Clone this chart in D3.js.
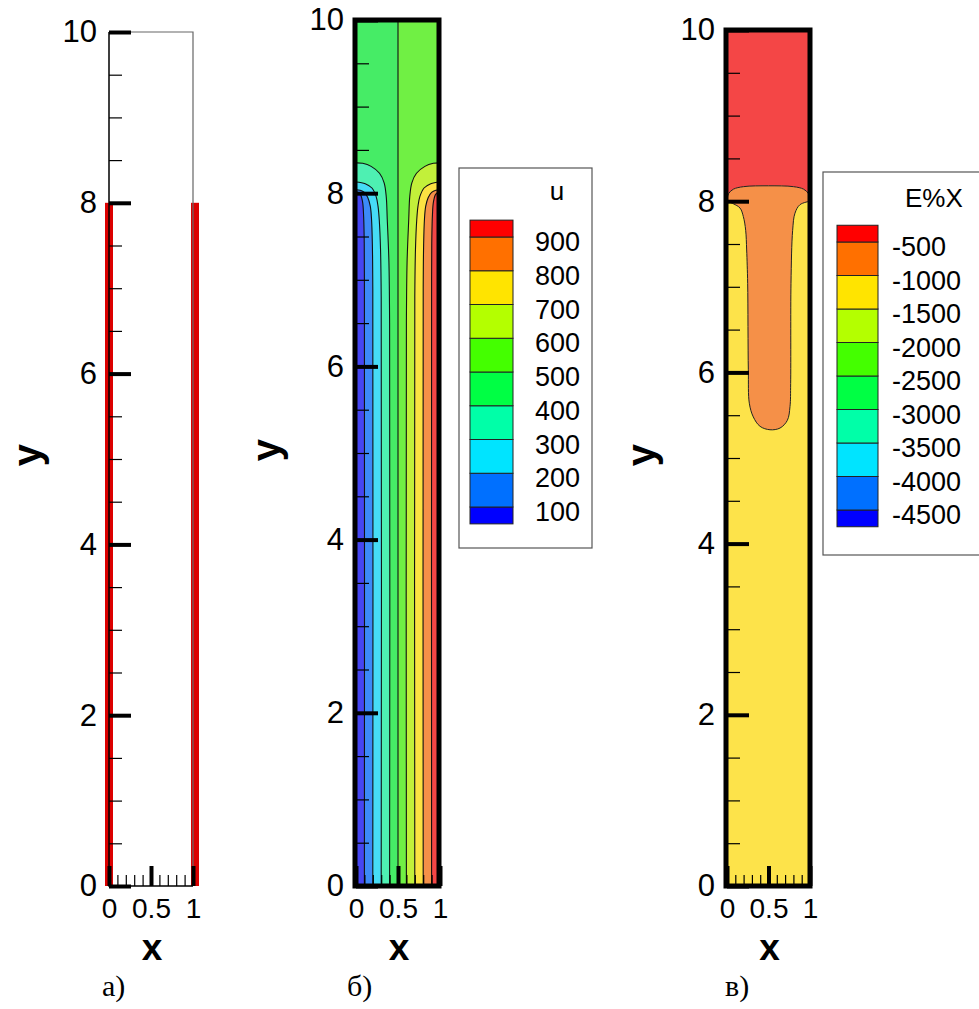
<!DOCTYPE html>
<html>
<head>
<meta charset="utf-8">
<script src="https://cdn.jsdelivr.net/npm/d3@7"></script>
<style>
  body { margin: 0; background: #fff; }
  svg { display: block; }
  text { font-family: "Liberation Sans", Arial, sans-serif; fill: #000; }
</style>
</head>
<body>
<svg id="chart" width="979" height="1009"></svg>
<script>
// ---------------------------------------------------------------------------
// DATA
// ---------------------------------------------------------------------------
const yTicks = [0, 2, 4, 6, 8, 10];
const xTicks = [0, 0.5, 1];
const xTickLabels = ['0', '0.5', '1'];
const wallTop = 8;          // heated walls go from y = 0 to y = 8

// legend levels and colours
const uLevels = [100, 200, 300, 400, 500, 600, 700, 800, 900];
const eLevels = [-4500, -4000, -3500, -3000, -2500, -2000, -1500, -1000, -500];
const legendColors = ['#0000ff', '#0070ff', '#00e4ff', '#00ffa8', '#00ff44',
  '#44ff00', '#b4ff00', '#ffe400', '#ff7000', '#ff0000'];
// the field itself is rendered a bit paler than the legend swatches
const fieldColors = ['#4646f2', '#3c8af8', '#46dcf6', '#4ef0b2', '#46ec66',
  '#70f044', '#c2f03a', '#fce242', '#f59048', '#f44646'];

const u100 = [[0.1, 0], [0.1, 7.0], [0.097, 7.5], [0.09, 7.75], [0.078, 7.9], [0.05, 7.99], [0, 8.02]];
const u200 = [[0.2, 0], [0.2, 6.9], [0.195, 7.4], [0.185, 7.7], [0.17, 7.85], [0.14, 7.95], [0.1, 8.01], [0.05, 8.035], [0, 8.04]];
const u300 = [[0.3, 0], [0.3, 6.8], [0.292, 7.35], [0.277, 7.69], [0.262, 7.85], [0.24, 7.96], [0.19, 8.06], [0.11, 8.11], [0, 8.13]];
const u400 = [[0.4, 0], [0.4, 6.5], [0.392, 7.2], [0.372, 7.7], [0.36, 7.96], [0.335, 8.12], [0.28, 8.23], [0.18, 8.31], [0.08, 8.345], [0, 8.35]];
const u500 = [[0.5, 0], [0.5, 10]];
const u600 = [[0.6, 0], [0.6, 6.5], [0.608, 7.2], [0.628, 7.7], [0.64, 7.96], [0.665, 8.12], [0.72, 8.23], [0.82, 8.31], [0.92, 8.345], [1, 8.35]];
const u700 = [[0.7, 0], [0.7, 6.8], [0.708, 7.35], [0.723, 7.69], [0.738, 7.85], [0.76, 7.96], [0.81, 8.06], [0.89, 8.11], [1, 8.13]];
const u800 = [[0.8, 0], [0.8, 6.9], [0.805, 7.4], [0.815, 7.7], [0.83, 7.85], [0.86, 7.95], [0.9, 8.01], [0.95, 8.035], [1, 8.04]];
const u900 = [[0.9, 0], [0.9, 7.0], [0.903, 7.5], [0.91, 7.75], [0.922, 7.9], [0.95, 7.99], [1, 8.02]];

const eRedEdge = [[0, 8.02], [0.02, 8.09], [0.076, 8.14], [0.2, 8.17], [0.5, 8.18], [0.8, 8.17], [0.924, 8.14], [0.98, 8.09], [1, 8.02]];
const eTongue = [[0, 8.0], [0.076, 7.97], [0.157, 7.92], [0.197, 7.82], [0.225, 7.66], [0.237, 7.43], [0.249, 7.04],
  [0.257, 6.03], [0.269, 5.64], [0.317, 5.48], [0.398, 5.37], [0.518, 5.33], [0.639, 5.35], [0.727, 5.44],
  [0.759, 5.6], [0.767, 5.87], [0.771, 7.04], [0.791, 7.66], [0.819, 7.86], [0.88, 7.96], [1, 8.0]];

const captions = ['а)', 'б)', 'в)'];

// ---------------------------------------------------------------------------
// SCALES
// ---------------------------------------------------------------------------
const svg = d3.select('#chart');

const xa = d3.scaleLinear().domain([0, 1]).range([109, 193]);
const ya = d3.scaleLinear().domain([0, 10]).range([886, 32]);
const xb = d3.scaleLinear().domain([0, 1]).range([356, 440]);
const yb = d3.scaleLinear().domain([0, 10]).range([886, 20]);
const xc = d3.scaleLinear().domain([0, 1]).range([727, 810]);
const yc = d3.scaleLinear().domain([0, 10]).range([886, 30]);

// ---------------------------------------------------------------------------
// AXES (ticks pointing inwards, labels outside)
// ---------------------------------------------------------------------------
function drawAxes(g, x, y) {
  const yMinor = d3.range(0, 10.01, 0.5).filter(v => !yTicks.includes(v));
  const xMinor = d3.range(0, 1.001, 0.1).filter(v => Math.abs(v - 0.5) > 1e-6);

  const minorY = g.append('g')
      .attr('transform', `translate(${x(0)},0)`)
      .call(d3.axisLeft(y).tickValues(yMinor).tickSize(-13).tickFormat(''));
  const minorX = g.append('g')
      .attr('transform', `translate(0,${y(0)})`)
      .call(d3.axisBottom(x).tickValues(xMinor).tickSize(-11).tickFormat(''));
  [minorY, minorX].forEach((a) => {
    a.select('.domain').remove();
    a.selectAll('line').attr('stroke', '#000').attr('stroke-width', 1.2);
  });

  const majorY = g.append('g')
      .attr('transform', `translate(${x(0)},0)`)
      .call(d3.axisLeft(y).tickValues(yTicks).tickSize(-22).tickPadding(12));
  const majorX = g.append('g')
      .attr('transform', `translate(0,${y(0)})`)
      .call(d3.axisBottom(x).tickValues(xTicks).tickSize(-20).tickPadding(12)
        .tickFormat((d, i) => xTickLabels[i]));
  [majorY, majorX].forEach((a) => {
    a.select('.domain').remove();
    a.attr('font-family', null);
    a.selectAll('line').attr('stroke', '#000').attr('stroke-width', 4);
  });
  majorY.attr('font-size', 31);
  majorX.attr('font-size', 28);

  g.append('text')
      .attr('x', x(0.5) + 1)
      .attr('y', 960)
      .attr('text-anchor', 'middle')
      .attr('font-size', 37)
      .attr('font-weight', 'bold')
      .text('x');
}

function yTitle(cx, cy) {
  svg.append('text')
      .attr('transform', `translate(${cx},${cy}) rotate(-90)`)
      .attr('text-anchor', 'middle')
      .attr('dominant-baseline', 'central')
      .attr('font-size', 40)
      .attr('font-weight', 'bold')
      .text('y');
}

function caption(x0, i) {
  svg.append('text')
      .attr('x', x0)
      .attr('y', 996)
      .style('font-family', '"Liberation Serif", "Times New Roman", serif')
      .attr('font-size', 30)
      .text(captions[i]);
}

// ---------------------------------------------------------------------------
// PANEL а) GEOMETRY
// ---------------------------------------------------------------------------
const ga = svg.append('g');

ga.selectAll('.wall')
    .data([0, 1])
    .enter().append('rect')
      .attr('class', 'wall')
      .attr('x', d => xa(d) - (d === 0 ? 4 : 2))
      .attr('y', ya(wallTop))
      .attr('width', 8)
      .attr('height', ya(0) - ya(wallTop))
      .attr('fill', '#dc0000');

ga.append('path')
    .attr('d', `M${xa(0)},${ya(10)}H${xa(1)}V${ya(0)}`)
    .attr('fill', 'none')
    .attr('stroke', '#666')
    .attr('stroke-width', 1.2);
ga.append('path')
    .attr('d', `M${xa(0)},${ya(10)}V${ya(0)}H${xa(1)}`)
    .attr('fill', 'none')
    .attr('stroke', '#000')
    .attr('stroke-width', 1.5);

drawAxes(ga, xa, ya);
yTitle(27, 455);
caption(102, 0);

// ---------------------------------------------------------------------------
// PANEL б) u FIELD
// ---------------------------------------------------------------------------
const gb = svg.append('g');
const lineB = d3.line().x(d => xb(d[0])).y(d => yb(d[1])).curve(d3.curveCatmullRom);

gb.append('rect')
    .attr('x', xb(0)).attr('y', yb(10))
    .attr('width', xb(0.5) - xb(0)).attr('height', yb(0) - yb(10))
    .attr('fill', fieldColors[4]);
gb.append('rect')
    .attr('x', xb(0.5)).attr('y', yb(10))
    .attr('width', xb(1) - xb(0.5)).attr('height', yb(0) - yb(10))
    .attr('fill', fieldColors[5]);

const leftLines = [u400, u300, u200, u100];
const rightLines = [u600, u700, u800, u900];

gb.selectAll('.band-left')
    .data(leftLines)
    .enter().append('path')
      .attr('class', 'band-left')
      .attr('d', d => `${lineB(d)}L${xb(0)},${yb(0)}Z`)
      .attr('fill', (d, i) => fieldColors[3 - i]);

gb.selectAll('.band-right')
    .data(rightLines)
    .enter().append('path')
      .attr('class', 'band-right')
      .attr('d', d => `${lineB(d)}L${xb(1)},${yb(0)}Z`)
      .attr('fill', (d, i) => fieldColors[6 + i]);

gb.selectAll('.contour')
    .data([u100, u200, u300, u400, u500, u600, u700, u800, u900])
    .enter().append('path')
      .attr('class', 'contour')
      .attr('d', lineB)
      .attr('fill', 'none')
      .attr('stroke', '#111')
      .attr('stroke-width', 1.1);

gb.append('rect')
    .attr('x', xb(0) - 1).attr('y', yb(10))
    .attr('width', xb(1) - xb(0)).attr('height', yb(0) - yb(10))
    .attr('fill', 'none')
    .attr('stroke', '#000')
    .attr('stroke-width', 5);

drawAxes(gb, xb, yb);
yTitle(266, 450);
caption(347, 1);

// ---------------------------------------------------------------------------
// PANEL в) E%X FIELD
// ---------------------------------------------------------------------------
const gc = svg.append('g');
const lineC = d3.line().x(d => xc(d[0])).y(d => yc(d[1])).curve(d3.curveCatmullRom);

gc.append('rect')
    .attr('x', xc(0)).attr('y', yc(10))
    .attr('width', xc(1) - xc(0)).attr('height', yc(0) - yc(10))
    .attr('fill', '#fde34a');

gc.append('path')
    .attr('d', `${lineC(eRedEdge)}L${xc(1)},${yc(10)}L${xc(0)},${yc(10)}Z`)
    .attr('fill', fieldColors[9]);

gc.append('path')
    .attr('d', `${lineC(eTongue)}${lineC(eRedEdge.slice().reverse()).replace('M', 'L')}Z`)
    .attr('fill', fieldColors[8]);

gc.selectAll('.contour')
    .data([eRedEdge, eTongue])
    .enter().append('path')
      .attr('class', 'contour')
      .attr('d', lineC)
      .attr('fill', 'none')
      .attr('stroke', '#222')
      .attr('stroke-width', 1);

gc.append('rect')
    .attr('x', xc(0) - 1).attr('y', yc(10))
    .attr('width', xc(1) - xc(0) + 1).attr('height', yc(0) - yc(10))
    .attr('fill', 'none')
    .attr('stroke', '#000')
    .attr('stroke-width', 5);

drawAxes(gc, xc, yc);
yTitle(641, 455);
caption(725, 2);

// ---------------------------------------------------------------------------
// LEGENDS
// ---------------------------------------------------------------------------
function legend(opt) {
  const g = svg.append('g');
  const s = d3.scaleLinear().domain(d3.extent(opt.levels)).range([opt.bottom, opt.top]);
  const step = opt.levels[1] - opt.levels[0];
  const edges = [opt.levels[0] - step / 2, ...opt.levels, opt.levels[opt.levels.length - 1] + step / 2];
  const bands = d3.pairs(edges);

  g.append('rect')
      .attr('x', opt.box[0]).attr('y', opt.box[1])
      .attr('width', opt.box[2]).attr('height', opt.box[3])
      .attr('fill', '#fff')
      .attr('stroke', '#555')
      .attr('stroke-width', 1.2);

  g.selectAll('.swatch')
      .data(bands)
      .enter().append('rect')
        .attr('class', 'swatch')
        .attr('x', opt.sx)
        .attr('y', d => s(d[1]))
        .attr('width', opt.sw)
        .attr('height', d => s(d[0]) - s(d[1]))
        .attr('fill', (d, i) => legendColors[i])
        .attr('stroke', '#222')
        .attr('stroke-width', 1);

  g.selectAll('.lab')
      .data(opt.levels)
      .enter().append('text')
        .attr('class', 'lab')
        .attr('x', opt.lx)
        .attr('y', d => s(d) + 5)
        .attr('dominant-baseline', 'central')
        .attr('text-anchor', opt.anchor)
        .attr('font-size', 27)
        .text(d => d);

  g.append('text')
      .attr('x', opt.tx)
      .attr('y', opt.ty)
      .attr('text-anchor', opt.tAnchor)
      .attr('font-size', 26)
      .text(opt.title);
}

legend({
  levels: uLevels, top: 237, bottom: 507, box: [459, 168, 133, 380],
  sx: 470, sw: 43, lx: 580, anchor: 'end', title: 'u', tx: 557, ty: 200, tAnchor: 'middle',
});
legend({
  levels: eLevels, top: 242, bottom: 510, box: [823, 172, 160, 383],
  sx: 837, sw: 41, lx: 892, anchor: 'start', title: 'E%X', tx: 905, ty: 207, tAnchor: 'start',
});
</script>
</body>
</html>
